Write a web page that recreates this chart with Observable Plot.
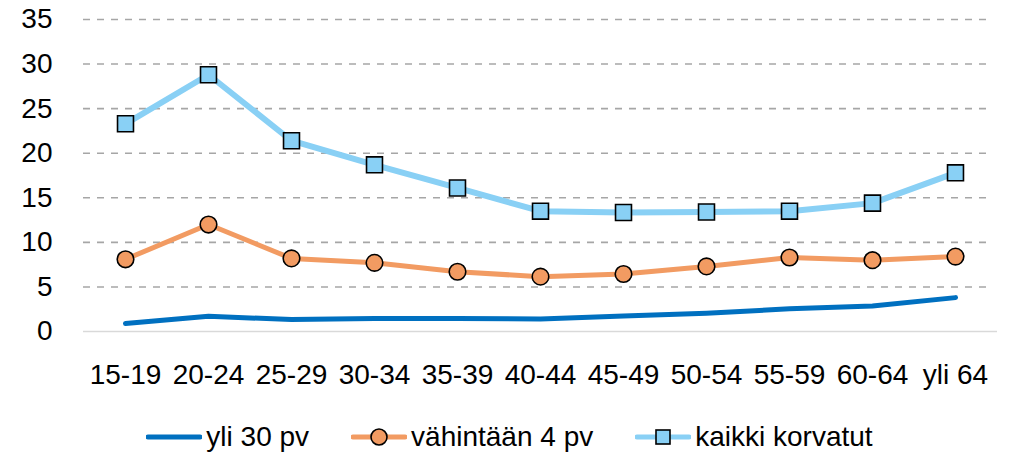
<!DOCTYPE html>
<html>
<head>
<meta charset="utf-8">
<script src="https://cdn.jsdelivr.net/npm/d3@7"></script>
<script src="https://cdn.jsdelivr.net/npm/@observablehq/plot@0.6"></script>
<style>
  html, body { margin: 0; padding: 0; background: #fff; }
  body { width: 1011px; height: 453px; overflow: hidden; font-family: "Liberation Sans", Arial, sans-serif; }
  #legend { display: flex; justify-content: center; align-items: center; height: 53px; margin-top: 10px; font-size: 28px; color: #000; padding-left: 8px; }
  .item { display: flex; align-items: center; margin: 0 21px; }
  .item svg { margin-right: 4px; }
</style>
</head>
<body>
<div id="chart"></div>
<div id="legend"></div>
<script>
const categories = ["15-19","20-24","25-29","30-34","35-39","40-44","45-49","50-54","55-59","60-64","yli 64"];
const yli30 = [0.9, 1.7, 1.35, 1.45, 1.45, 1.4, 1.75, 2.05, 2.55, 2.85, 3.8];
const vahintaan4 = [8.1, 12.0, 8.2, 7.7, 6.7, 6.15, 6.45, 7.3, 8.3, 8.0, 8.4];
const kaikki = [23.3, 28.8, 21.4, 18.7, 16.1, 13.5, 13.35, 13.4, 13.5, 14.4, 17.8];
const yTicks = [0, 5, 10, 15, 20, 25, 30, 35];
const seriesNames = ["yli 30 pv", "vähintään 4 pv", "kaikki korvatut"];
const colors = ["#0070C0", "#F29B62", "#89D0F5"];

const rows = (vals) => categories.map((c, i) => ({cat: c, v: vals[i]}));
const d1 = rows(yli30), d2 = rows(vahintaan4), d3r = rows(kaikki);

const chart = Plot.plot({
  width: 1011,
  height: 400,
  marginLeft: 83,
  marginRight: 14,
  marginTop: 19,
  marginBottom: 69,
  style: {fontFamily: "'Liberation Sans', Arial, sans-serif", fontSize: "28px", color: "#000", background: "#fff"},
  x: {type: "point", domain: categories, padding: 0.5, label: null, tickSize: 0, tickPadding: 33},
  y: {domain: [0, 35], ticks: yTicks, label: null, tickSize: 0, tickPadding: 31},
  marks: [
    Plot.ruleY(yTicks.filter(t => t > 0), {stroke: "#A6A6A6", strokeWidth: 1.6, strokeDasharray: "7,7", insetRight: 4}),
    Plot.ruleY([0], {stroke: "#D9D9D9", strokeWidth: 1.6}),
    Plot.line(d1, {x: "cat", y: "v", stroke: colors[0], strokeWidth: 5}),
    Plot.line(d2, {x: "cat", y: "v", stroke: colors[1], strokeWidth: 5}),
    Plot.dot(d2, {x: "cat", y: "v", r: 8.3, fill: colors[1], stroke: "#000", strokeWidth: 1.6}),
    Plot.line(d3r, {x: "cat", y: "v", stroke: colors[2], strokeWidth: 6}),
    Plot.dot(d3r, {x: "cat", y: "v", symbol: "square", r: 9, fill: colors[2], stroke: "#000", strokeWidth: 1.6})
  ]
});
document.getElementById("chart").appendChild(chart);

const legend = document.getElementById("legend");
const markers = ["none", "circle", "square"];
seriesNames.forEach((name, i) => {
  const item = document.createElement("div");
  item.className = "item";
  let marker = "";
  if (markers[i] === "circle") marker = `<circle cx="28" cy="15" r="8" fill="${colors[i]}" stroke="#000" stroke-width="1.6"/>`;
  if (markers[i] === "square") marker = `<rect x="21" y="8" width="14" height="14" fill="${colors[i]}" stroke="#000" stroke-width="1.6"/>`;
  item.innerHTML = `<svg width="56" height="30"><line x1="2" x2="54" y1="15" y2="15" stroke="${colors[i]}" stroke-width="5" stroke-linecap="round"/>${marker}</svg><span>${name}</span>`;
  legend.appendChild(item);
});
</script>
</body>
</html>
